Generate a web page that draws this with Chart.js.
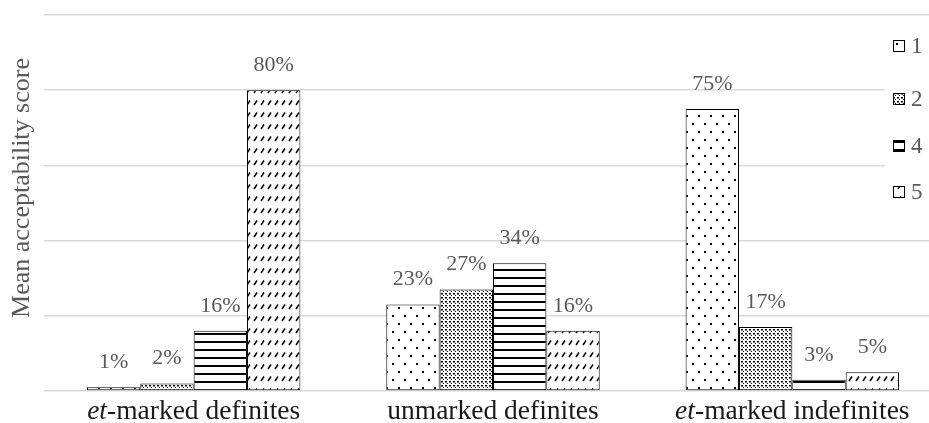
<!DOCTYPE html>
<html>
<head>
<meta charset="utf-8">
<script src="https://cdn.jsdelivr.net/npm/chart.js@4/dist/chart.umd.min.js"></script>
<style>
  html, body { margin: 0; padding: 0; background: #fff; overflow: hidden; }
  #wrap { width: 960px; height: 423px; }
</style>
</head>
<body>
<div id="wrap"><canvas id="chart" width="960" height="423"></canvas></div>
<script>
// Categories along the x axis
const categories = ['et-marked definites', 'unmarked definites', 'et-marked indefinites'];
// Rating levels shown in the legend
const seriesNames = ['1', '2', '4', '5'];
// Share of responses (%) per rating level
const score1 = [1, 23, 75];
const score2 = [2, 27, 17];
const score4 = [16, 34, 3];
const score5 = [80, 16, 5];
// Value axis gridline positions (%)
const yTicks = [0, 20, 40, 60, 80, 100];

const SERIF = '"Liberation Serif", "Times New Roman", serif';
const GREY_TEXT = '#595959';

const canvas = document.getElementById('chart');
const ctx = canvas.getContext('2d');

function makePattern(w, h, draw) {
  const c = document.createElement('canvas');
  c.width = w; c.height = h;
  const g = c.getContext('2d');
  g.fillStyle = '#fff';
  g.fillRect(0, 0, w, h);
  g.fillStyle = '#000';
  g.strokeStyle = '#000';
  draw(g);
  return ctx.createPattern(c, 'repeat');
}

// sparse offset dots
const patSparse = makePattern(12, 16, g => {
  g.fillRect(2, 3, 2, 2);
  g.fillRect(8, 11, 2, 2);
});
// dense dot grid
const patDense = makePattern(4, 4, g => {
  g.fillRect(1, 1, 2, 1.5);
  g.fillRect(3, 3, 1, 1);
});
// horizontal stripes
const patStripes = makePattern(8, 8, g => {
  g.fillRect(0, 5, 8, 2);
});
// short diagonal dashes
const patDashes = makePattern(7, 12, g => {
  g.lineWidth = 1.5;
  g.beginPath();
  g.moveTo(2, 9);
  g.lineTo(5, 4.5);
  g.stroke();
});

const patterns = [patSparse, patDense, patStripes, patDashes];
const seriesValues = [score1, score2, score4, score5];

const datasets = seriesNames.map((name, i) => ({
  label: name,
  data: seriesValues[i],
  backgroundColor: patterns[i],
  borderColor: '#000',
  borderWidth: 1,
  borderSkipped: false,
  categoryPercentage: 0.713,
  barPercentage: 1.0
}));

// Percent labels above each bar
const valueLabels = {
  id: 'valueLabels',
  afterDatasetsDraw(chart) {
    const c = chart.ctx;
    c.save();
    c.font = '22px ' + SERIF;
    c.fillStyle = GREY_TEXT;
    c.textAlign = 'center';
    c.textBaseline = 'middle';
    chart.data.datasets.forEach((ds, di) => {
      chart.getDatasetMeta(di).data.forEach((bar, i) => {
        c.fillText(ds.data[i] + '%', bar.x, bar.y - 25);
      });
    });
    c.restore();
  }
};

// Category labels with an italic "et" prefix, y title and legend
const decorations = {
  id: 'decorations',
  afterDraw(chart) {
    const c = chart.ctx;
    const xs = chart.scales.x;
    const area = chart.chartArea;
    c.save();

    // category labels
    const catFont = '27.5px ' + SERIF;
    const catItalic = 'italic 27.5px ' + SERIF;
    c.fillStyle = '#1a1a1a';
    c.textBaseline = 'alphabetic';
    c.textAlign = 'left';
    chart.data.labels.forEach((lab, i) => {
      const cx = xs.getPixelForValue(i);
      let italic = '', rest = lab;
      if (lab.startsWith('et-')) { italic = 'et'; rest = lab.slice(2); }
      c.font = catItalic;
      const wi = italic ? c.measureText(italic).width : 0;
      c.font = catFont;
      const wr = c.measureText(rest).width;
      let x = cx - (wi + wr) / 2;
      const y = area.bottom + 28;
      if (italic) {
        c.font = catItalic;
        c.fillText(italic, x, y);
        x += wi;
      }
      c.font = catFont;
      c.fillText(rest, x, y);
    });

    // y axis title
    c.save();
    c.translate(22, 188);
    c.rotate(-Math.PI / 2);
    c.font = '26px ' + SERIF;
    c.fillStyle = GREY_TEXT;
    c.textAlign = 'center';
    c.textBaseline = 'middle';
    c.fillText('Mean acceptability score', 0, 0);
    c.restore();

    // legend
    c.fillStyle = '#fff';
    c.fillRect(885, 28, 60, 184);
    const boxX = 893, box = 12;
    const legendY = [46, 99, 146, 192];
    chart.data.datasets.forEach((ds, i) => {
      const yc = legendY[i];
      c.fillStyle = ds.backgroundColor;
      c.fillRect(boxX, yc - box / 2, box, box);
      c.strokeStyle = '#000';
      c.lineWidth = 1;
      c.strokeRect(boxX + 0.5, yc - box / 2 + 0.5, box - 1, box - 1);
      c.fillStyle = GREY_TEXT;
      c.font = '23px ' + SERIF;
      c.textAlign = 'left';
      c.textBaseline = 'middle';
      c.fillText(ds.label, boxX + box + 6, yc + 1);
    });
    c.restore();
  }
};

new Chart(ctx, {
  type: 'bar',
  data: { labels: categories, datasets },
  options: {
    responsive: false,
    animation: false,
    devicePixelRatio: 1,
    layout: { padding: { left: 44, right: 18, top: 15, bottom: 24 } },
    plugins: {
      legend: { display: false },
      tooltip: { enabled: false }
    },
    scales: {
      x: {
        grid: { display: false },
        border: { display: false },
        ticks: { display: false }
      },
      y: {
        min: yTicks[0],
        max: yTicks[yTicks.length - 1],
        afterBuildTicks(scale) { scale.ticks = yTicks.map(v => ({ value: v })); },
        grid: { color: '#d9d9d9', lineWidth: 1.5, drawTicks: false },
        border: { display: false },
        ticks: { display: false }
      }
    }
  },
  plugins: [valueLabels, decorations]
});
</script>
</body>
</html>
